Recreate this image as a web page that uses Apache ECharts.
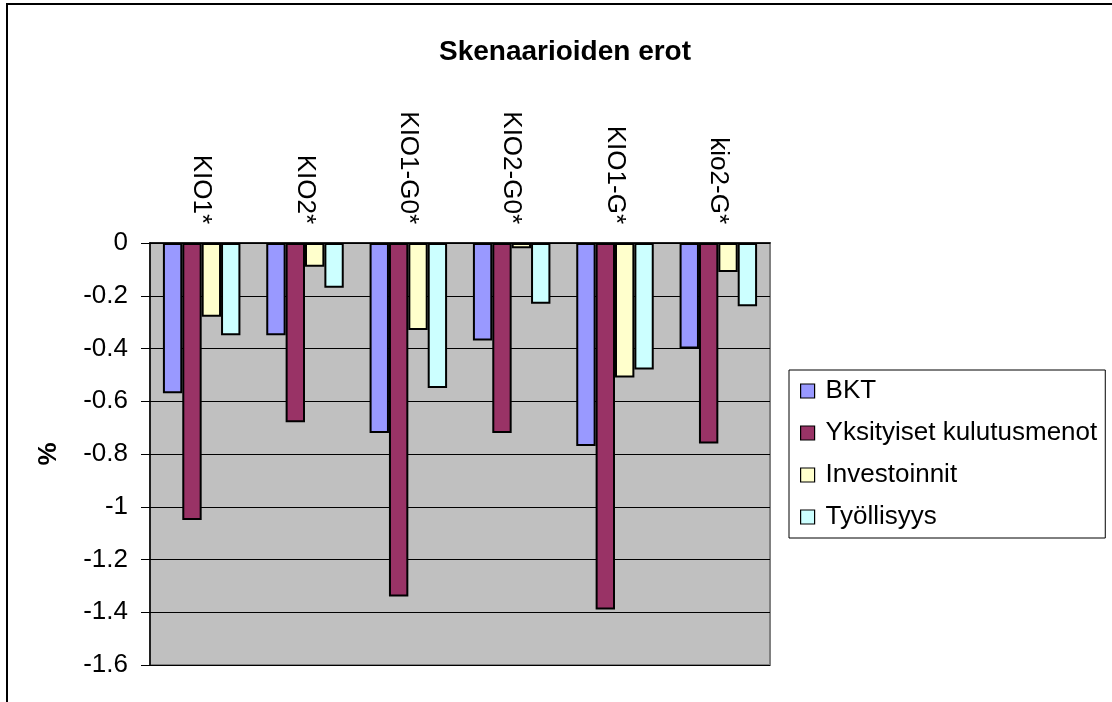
<!DOCTYPE html>
<html>
<head>
<meta charset="utf-8">
<title>Skenaarioiden erot</title>
<script src="https://cdn.jsdelivr.net/npm/echarts@6/dist/echarts.min.js"></script>
<style>
  html, body { margin: 0; padding: 0; background: #fff; }
  #main { width: 1112px; height: 702px; }
</style>
</head>
<body>
<div id="main"></div>
<script>
// skenaariot (x-akseli)
var scenarios = ['KIO1*', 'KIO2*', 'KIO1-G0*', 'KIO2-G0*', 'KIO1-G*', 'kio2-G*']

// erot prosentteina, luettu kuvasta
var bkt = [-0.57, -0.35, -0.72, -0.37, -0.77, -0.40]
var kulutus = [-1.05, -0.68, -1.34, -0.72, -1.39, -0.76]
var investoinnit = [-0.28, -0.09, -0.33, -0.02, -0.51, -0.11]
var tyollisyys = [-0.35, -0.17, -0.55, -0.23, -0.48, -0.24]

var seriesNames = ['BKT', 'Yksityiset kulutusmenot', 'Investoinnit', 'Työllisyys']
var seriesColors = ['#9999ff', '#993366', '#ffffcc', '#ccffff']

var yMin = -1.6
var yMax = 0
var yStep = 0.2

var font = "'Liberation Sans', Arial, sans-serif"

var myChart = echarts.init(document.getElementById('main'))

function barSeries(name, data, color) {
  return {
    name: name,
    type: 'bar',
    data: data,
    barGap: '0%',
    barCategoryGap: '25%',
    itemStyle: {
      color: color,
      borderColor: '#000',
      borderWidth: 2
    }
  }
}

var option = {
  animation: false,
  backgroundColor: '#fff',
  textStyle: { fontFamily: font },
  graphic: [{
    // kehys
    type: 'rect',
    shape: { x: 7, y: 4, width: 1200, height: 800 },
    style: { fill: 'none', stroke: '#000', lineWidth: 2 },
    z: 100
  }],
  title: {
    text: 'Skenaarioiden erot',
    left: 560,
    top: 33,
    textAlign: 'center',
    textStyle: {
      fontFamily: font,
      fontSize: 28,
      fontWeight: 'bold',
      color: '#000'
    }
  },
  legend: {
    orient: 'vertical',
    left: 789,
    top: 370,
    padding: [8, 8, 8, 11],
    itemGap: 16,
    itemWidth: 14,
    itemHeight: 14,
    icon: 'rect',
    borderColor: '#000',
    borderWidth: 1,
    itemStyle: { borderColor: '#000', borderWidth: 1.2 },
    textStyle: {
      fontFamily: font,
      fontSize: 26,
      lineHeight: 26,
      color: '#000',
      padding: [0, 0, 0, 6]
    },
    data: seriesNames
  },
  grid: {
    left: 150,
    top: 243,
    right: 342,
    bottom: 37,
    show: true,
    backgroundColor: '#c0c0c0',
    borderColor: '#808080',
    borderWidth: 2
  },
  xAxis: {
    type: 'category',
    position: 'top',
    data: scenarios,
    axisLine: { lineStyle: { color: '#000', width: 1.5 } },
    axisTick: {
      inside: true,
      length: 8,
      lineStyle: { color: '#000' }
    },
    axisLabel: {
      rotate: -90,
      margin: 19,
      fontFamily: font,
      fontSize: 26,
      color: '#000'
    }
  },
  yAxis: {
    type: 'value',
    min: yMin,
    max: yMax,
    interval: yStep,
    name: '%',
    nameLocation: 'middle',
    nameGap: 88,
    nameTextStyle: {
      fontFamily: font,
      fontSize: 26,
      fontWeight: 'bold',
      color: '#000'
    },
    axisLine: { show: true, lineStyle: { color: '#000', width: 1.5 } },
    axisTick: {
      show: true,
      length: 9,
      lineStyle: { color: '#000' }
    },
    axisLabel: {
      margin: 22,
      fontFamily: font,
      fontSize: 26,
      color: '#000',
      formatter: function (v) {
        return String(Math.round(v * 10) / 10)
      }
    },
    splitLine: { lineStyle: { color: '#000', width: 1 } }
  },
  series: [
    barSeries(seriesNames[0], bkt, seriesColors[0]),
    barSeries(seriesNames[1], kulutus, seriesColors[1]),
    barSeries(seriesNames[2], investoinnit, seriesColors[2]),
    barSeries(seriesNames[3], tyollisyys, seriesColors[3])
  ]
}

myChart.setOption(option)
</script>
</body>
</html>
